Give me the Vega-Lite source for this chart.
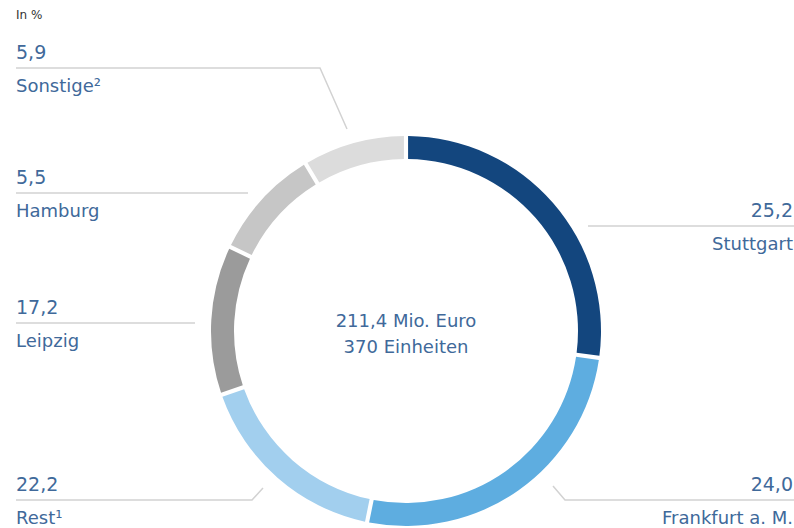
{
  "$schema": "https://vega.github.io/schema/vega-lite/v6.json",
  "width": 794,
  "height": 528,
  "autosize": {"type": "none"},
  "padding": 0,
  "background": "white",
  "config": {
    "view": {"stroke": null},
    "font": "DejaVu Sans",
    "locale": {"number": {"decimal": ",", "thousands": ".", "grouping": [3], "currency": ["", " €"]}}
  },
  "datasets": {
    "segments": [
      {"category": "Stuttgart", "value": 25.2, "share": 27.2, "rank": 1},
      {"category": "Frankfurt a. M.", "value": 24.0, "share": 26.0, "rank": 2},
      {"category": "Rest", "value": 22.2, "share": 16.5, "rank": 3},
      {"category": "Leipzig", "value": 17.2, "share": 12.4, "rank": 4},
      {"category": "Hamburg", "value": 5.5, "share": 9.3, "rank": 5},
      {"category": "Sonstige", "value": 5.9, "share": 8.6, "rank": 6}
    ],
    "labels": [
      {"category": "Sonstige", "value": 5.9, "name": "Sonstige²", "lx": -390, "ly": 263},
      {"category": "Hamburg", "value": 5.5, "name": "Hamburg", "lx": -390, "ly": 138},
      {"category": "Leipzig", "value": 17.2, "name": "Leipzig", "lx": -390, "ly": 8},
      {"category": "Rest", "value": 22.2, "name": "Rest¹", "lx": -390, "ly": -169},
      {"category": "Stuttgart", "value": 25.2, "name": "Stuttgart", "lx": 387, "ly": 105},
      {"category": "Frankfurt a. M.", "value": 24.0, "name": "Frankfurt a. M.", "lx": 387, "ly": -169}
    ],
    "leaders": [
      {"category": "Sonstige", "step": 1, "x": -390, "y": 263},
      {"category": "Sonstige", "step": 2, "x": -86, "y": 263},
      {"category": "Sonstige", "step": 3, "x": -59, "y": 202},
      {"category": "Hamburg", "step": 1, "x": -390, "y": 138},
      {"category": "Hamburg", "step": 2, "x": -158, "y": 138},
      {"category": "Leipzig", "step": 1, "x": -390, "y": 8},
      {"category": "Leipzig", "step": 2, "x": -211, "y": 8},
      {"category": "Rest", "step": 1, "x": -390, "y": -169},
      {"category": "Rest", "step": 2, "x": -154, "y": -169},
      {"category": "Rest", "step": 3, "x": -143, "y": -157},
      {"category": "Stuttgart", "step": 1, "x": 182, "y": 105},
      {"category": "Stuttgart", "step": 2, "x": 388, "y": 105},
      {"category": "Frankfurt a. M.", "step": 1, "x": 147, "y": -155},
      {"category": "Frankfurt a. M.", "step": 2, "x": 159, "y": -169},
      {"category": "Frankfurt a. M.", "step": 3, "x": 388, "y": -169}
    ]
  },
  "layer": [
    {
      "data": {"name": "segments"},
      "mark": {"type": "arc", "radius": 195, "radius2": 172, "padAngle": 0.016},
      "encoding": {
        "x": {"datum": 0, "type": "quantitative", "scale": {"domain": [-406, 388], "nice": false, "zero": false}, "axis": null},
        "y": {"datum": 0, "type": "quantitative", "scale": {"domain": [-197, 331], "nice": false, "zero": false}, "axis": null},
        "theta": {"field": "share", "type": "quantitative", "stack": true},
        "order": {"field": "rank", "type": "quantitative"},
        "color": {
          "field": "category",
          "type": "nominal",
          "scale": {
            "domain": ["Stuttgart", "Frankfurt a. M.", "Rest", "Leipzig", "Hamburg", "Sonstige"],
            "range": ["#13467e", "#5eade0", "#a2cfee", "#9b9b9b", "#c6c6c6", "#dcdcdc"]
          },
          "legend": null
        }
      }
    },
    {
      "data": {"name": "leaders"},
      "mark": {"type": "line", "color": "#d2d2d2", "strokeWidth": 1.5},
      "encoding": {
        "x": {"field": "x", "type": "quantitative", "axis": null},
        "y": {"field": "y", "type": "quantitative", "axis": null},
        "detail": {"field": "category", "type": "nominal"},
        "order": {"field": "step", "type": "quantitative"}
      }
    },
    {
      "data": {"name": "labels"},
      "mark": {"type": "text", "fontSize": 19, "color": "#40699a", "baseline": "alphabetic", "dy": -9, "align": {"expr": "datum.lx < 0 ? 'left' : 'right'"}},
      "encoding": {
        "x": {"field": "lx", "type": "quantitative", "axis": null},
        "y": {"field": "ly", "type": "quantitative", "axis": null},
        "text": {"field": "value", "type": "quantitative", "format": ".1f"}
      }
    },
    {
      "data": {"name": "labels"},
      "mark": {"type": "text", "fontSize": 18, "color": "#40699a", "baseline": "alphabetic", "dy": 24, "align": {"expr": "datum.lx < 0 ? 'left' : 'right'"}},
      "encoding": {
        "x": {"field": "lx", "type": "quantitative", "axis": null},
        "y": {"field": "ly", "type": "quantitative", "axis": null},
        "text": {"field": "name", "type": "nominal"}
      }
    },
    {
      "data": {"values": [{}]},
      "mark": {"type": "text", "fontSize": 18, "color": "#40699a", "baseline": "alphabetic", "align": "center", "dy": -4, "lineHeight": 26},
      "encoding": {
        "x": {"datum": 0, "type": "quantitative", "axis": null},
        "y": {"datum": 0, "type": "quantitative", "axis": null},
        "text": {"value": ["211,4 Mio. Euro", "370 Einheiten"]}
      }
    },
    {
      "data": {"values": [{}]},
      "mark": {"type": "text", "fontSize": 12, "color": "#333333", "baseline": "alphabetic", "align": "left"},
      "encoding": {
        "x": {"datum": -390, "type": "quantitative", "axis": null},
        "y": {"datum": 312, "type": "quantitative", "axis": null},
        "text": {"value": "In %"}
      }
    }
  ]
}
